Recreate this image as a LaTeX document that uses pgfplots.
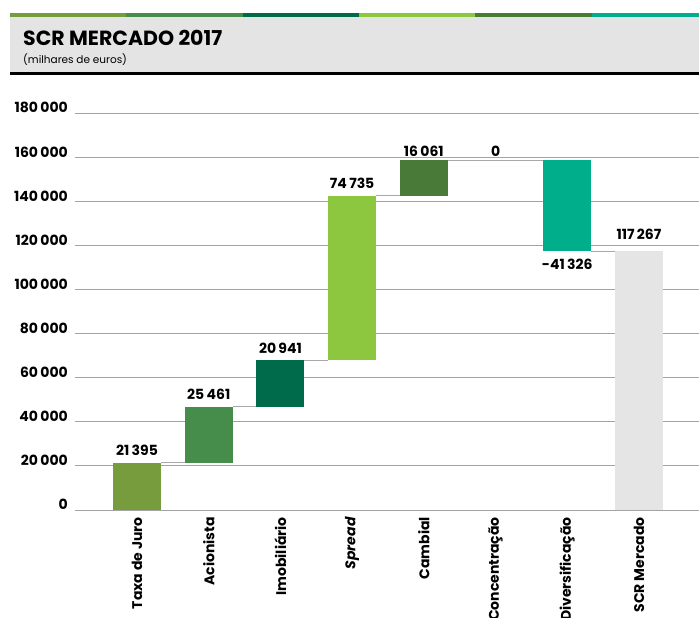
\documentclass[border=0pt]{standalone}
\usepackage{fontspec}
\setmainfont{Poppins}
\usepackage{pgfplots}
\usepackage{pgfplotstable}
\pgfplotsset{compat=1.18}

\definecolor{cTaxa}{HTML}{779C3D}
\definecolor{cAcion}{HTML}{468C4A}
\definecolor{cImob}{HTML}{006B4A}
\definecolor{cSpread}{HTML}{8DC63F}
\definecolor{cCamb}{HTML}{4A7A37}
\definecolor{cDiv}{HTML}{00AE8C}
\definecolor{cTotal}{HTML}{E5E5E5}
\definecolor{hdrgray}{HTML}{E4E4E4}
\definecolor{gridgray}{HTML}{A3A3A3}
\definecolor{linkgray}{HTML}{A8A8A8}

\tikzset{lbl/.style={font=\fontsize{14}{16}\selectfont\bfseries, inner sep=0pt}}

% waterfall: invisible base + one column per coloured bar
\pgfplotstableread{
x base taxa acion imob spread camb div total
0 0      21395 0     0     0     0     0     0
1 21395  0     25461 0     0     0     0     0
2 46856  0     0     20941 0     0     0     0
3 67797  0     0     0     74735 0     0     0
4 142532 0     0     0     0     16061 0     0
5 158593 0     0     0     0     0     0     0
6 117267 0     0     0     0     0     41326 0
7 0      0     0     0     0     0     0     117267
}\wfdata

\begin{document}
\begin{tikzpicture}
\path[use as bounding box] (0,0) rectangle (699pt,618pt);
% header band
\fill[hdrgray] (10pt,545.5pt) rectangle (699pt,600.5pt);
\fill[black] (10pt,542.5pt) rectangle (699pt,545.5pt);
\fill[cTaxa]   (10pt,600.5pt)  rectangle (126pt,605pt);
\fill[cAcion]  (126pt,600.5pt) rectangle (243pt,605pt);
\fill[cImob]   (243pt,600.5pt) rectangle (359pt,605pt);
\fill[cSpread] (359pt,600.5pt) rectangle (475pt,605pt);
\fill[cCamb]   (475pt,600.5pt) rectangle (592pt,605pt);
\fill[cDiv]    (592pt,600.5pt) rectangle (699pt,605pt);
\node[anchor=base west, inner sep=0pt, font=\fontsize{20.5}{24}\selectfont\bfseries] at (23pt,572pt) {SCR MERCADO 2017};
\node[anchor=base west, inner sep=0pt, font=\fontsize{10.5}{12}\selectfont] at (23pt,554pt) {(milhares de euros)};

\begin{axis}[
  at={(75pt,108pt)}, anchor=south west,
  scale only axis, width=624pt, height=397pt,
  ybar stacked, bar width=48pt,
  xmin=-0.865, xmax=7.837, ymin=0, ymax=180000,
  axis line style={draw=none},
  tick style={draw=none},
  ymajorgrids, grid style={gridgray, line width=0.9pt},
  ytick={0,20000,...,180000},
  scaled y ticks=false,
  /pgf/number format/.cd, fixed, precision=0, 1000 sep={\,}, assume math mode=true,
  /pgfplots/.cd,
  xtick={0,...,7},
  xticklabels={Taxa de Juro, Acionista, Imobiliário, \textit{Spread}, Cambial, Concentração, Diversificação, SCR Mercado},
  tick label style={font=\fontsize{14}{16}\selectfont\bfseries},
  yticklabel style={anchor=base east, inner xsep=7pt},
  xticklabel style={rotate=90, anchor=east, inner xsep=7pt, inner ysep=0pt},
]
\addplot[draw=none, fill=none] table[x=x, y=base] {\wfdata};
\addplot[draw=none, fill=cTaxa]   table[x=x, y=taxa]   {\wfdata};
\addplot[draw=none, fill=cAcion]  table[x=x, y=acion]  {\wfdata};
\addplot[draw=none, fill=cImob]   table[x=x, y=imob]   {\wfdata};
\addplot[draw=none, fill=cSpread] table[x=x, y=spread] {\wfdata};
\addplot[draw=none, fill=cCamb]   table[x=x, y=camb]   {\wfdata};
\addplot[draw=none, fill=cDiv]    table[x=x, y=div]    {\wfdata};
\addplot[draw=none, fill=cTotal]  table[x=x, y=total]  {\wfdata};
% connectors between bar edges
\addplot[sharp plot, stack plots=false, no marks, draw=linkgray, line width=1.3pt, unbounded coords=jump]
  coordinates {(0.335,21395) (0.665,21395) (0.5,nan)
               (1.335,46856) (1.665,46856) (1.5,nan)
               (2.335,67797) (2.665,67797) (2.5,nan)
               (3.335,142532) (3.665,142532) (3.5,nan)
               (4.335,158593) (5.665,158593) (5.5,nan)
               (6.335,117267) (6.665,117267)};
% value labels
\node[lbl, anchor=base] at (axis cs:0,21395)  [yshift=7pt] {21\,395};
\node[lbl, anchor=base] at (axis cs:1,46856)  [yshift=7pt] {25\,461};
\node[lbl, anchor=base] at (axis cs:2,67797)  [yshift=7pt] {20\,941};
\node[lbl, anchor=base] at (axis cs:3,142532) [yshift=7pt] {74\,735};
\node[lbl, anchor=base] at (axis cs:4,158593) [yshift=4pt] {16\,061};
\node[lbl, anchor=base] at (axis cs:5,158593) [yshift=4pt] {0};
\node[lbl, anchor=north] at (axis cs:6,117267) [yshift=-7pt] {-41\,326};
\node[lbl, anchor=base] at (axis cs:7,117267) [yshift=12pt] {117\,267};
\end{axis}
\end{tikzpicture}
\end{document}
